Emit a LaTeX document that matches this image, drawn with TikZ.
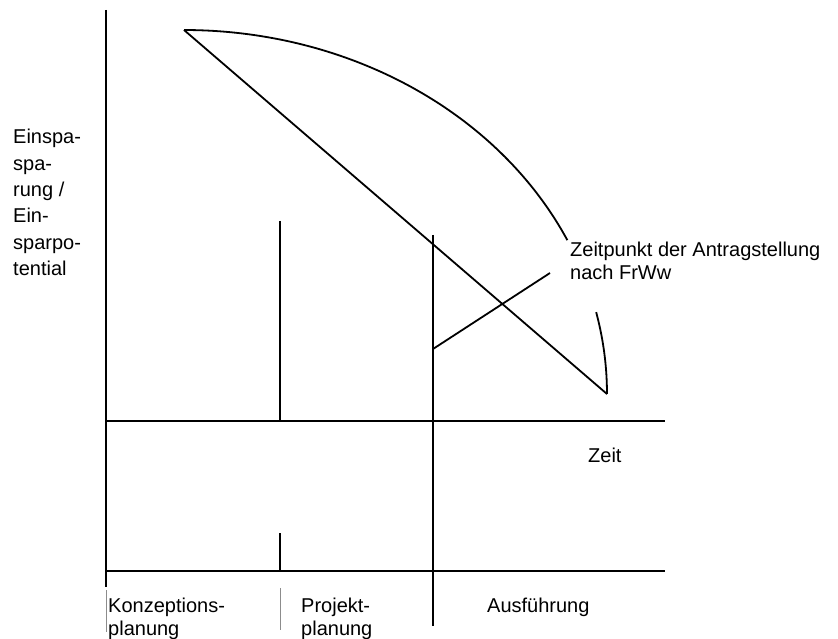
\documentclass[tikz,border=0pt]{standalone}
\usepackage{fontspec}
\setmainfont{Liberation Sans}
\begin{document}
\begin{tikzpicture}[x=1pt,y=-1pt,
  ln/.style={line width=1.8pt, black},
  faint/.style={line width=0.7pt, black!45},
  lbl/.style={anchor=base west, inner sep=0pt, font=\fontsize{20}{24}\selectfont}]
\useasboundingbox (0,0) rectangle (838,639);
% coordinates
\coordinate (yT) at (106,10);
\coordinate (yB) at (106,587);
\coordinate (yG1) at (106,590);
\coordinate (yG2) at (106,632);
\coordinate (h1L) at (106,421);
\coordinate (h1R) at (665,421);
\coordinate (h2L) at (106,571);
\coordinate (h2R) at (665,571);
\coordinate (p1T) at (280,221);
\coordinate (p1B) at (280,421);
\coordinate (p2T) at (280,533);
\coordinate (p2B) at (280,571);
\coordinate (p3T) at (280,588);
\coordinate (p3B) at (280,630);
\coordinate (aT) at (433,235);
\coordinate (aB) at (433,626);
\coordinate (dS) at (184,30);
\coordinate (dE) at (607,394);
\coordinate (lS) at (433,349);
\coordinate (lE) at (550,273);
% axes and separators
\draw[ln] (yT) -- (yB);
\draw[faint] (yG1) -- (yG2);
\draw[ln] (h1L) -- (h1R);
\draw[ln] (h2L) -- (h2R);
\draw[ln] (p1T) -- (p1B);
\draw[ln] (p2T) -- (p2B);
\draw[faint] (p3T) -- (p3B);
\draw[ln] (aT) -- (aB);
% diagonal
\draw[ln] (dS) -- (dE);
% elliptic arc (two parts)
\draw[ln] plot[domain=-90:-25, samples=80, smooth] ({184+423*cos(\x)},{394+364*sin(\x)});
\draw[ln] plot[domain=-13:0, samples=30, smooth] ({184+423*cos(\x)},{394+364*sin(\x)});
% pointer line
\draw[ln] (lS) -- (lE);
% texts
\node[lbl] (t1) at (13,144) {Einspa-};
\node[lbl] (t2) at (13,170.3) {spa-};
\node[lbl] (t3) at (13,196.6) {rung /};
\node[lbl] (t4) at (13,222.9) {Ein-};
\node[lbl] (t5) at (13,249.2) {sparpo-};
\node[lbl] (t6) at (13,275.5) {tential};
\node[lbl] (z1) at (570,256) {Zeitpunkt der Antragstellung};
\node[lbl] (z2) at (570,279) {nach FrWw};
\node[lbl] (zeit) at (588,462) {Zeit};
\node[lbl] (k1) at (108,612) {Konzeptions-};
\node[lbl] (k2) at (108,635) {planung};
\node[lbl] (pr1) at (301,612) {Projekt-};
\node[lbl] (pr2) at (301,635) {planung};
\node[lbl] (au) at (487,612) {Ausführung};
\end{tikzpicture}
\end{document}
